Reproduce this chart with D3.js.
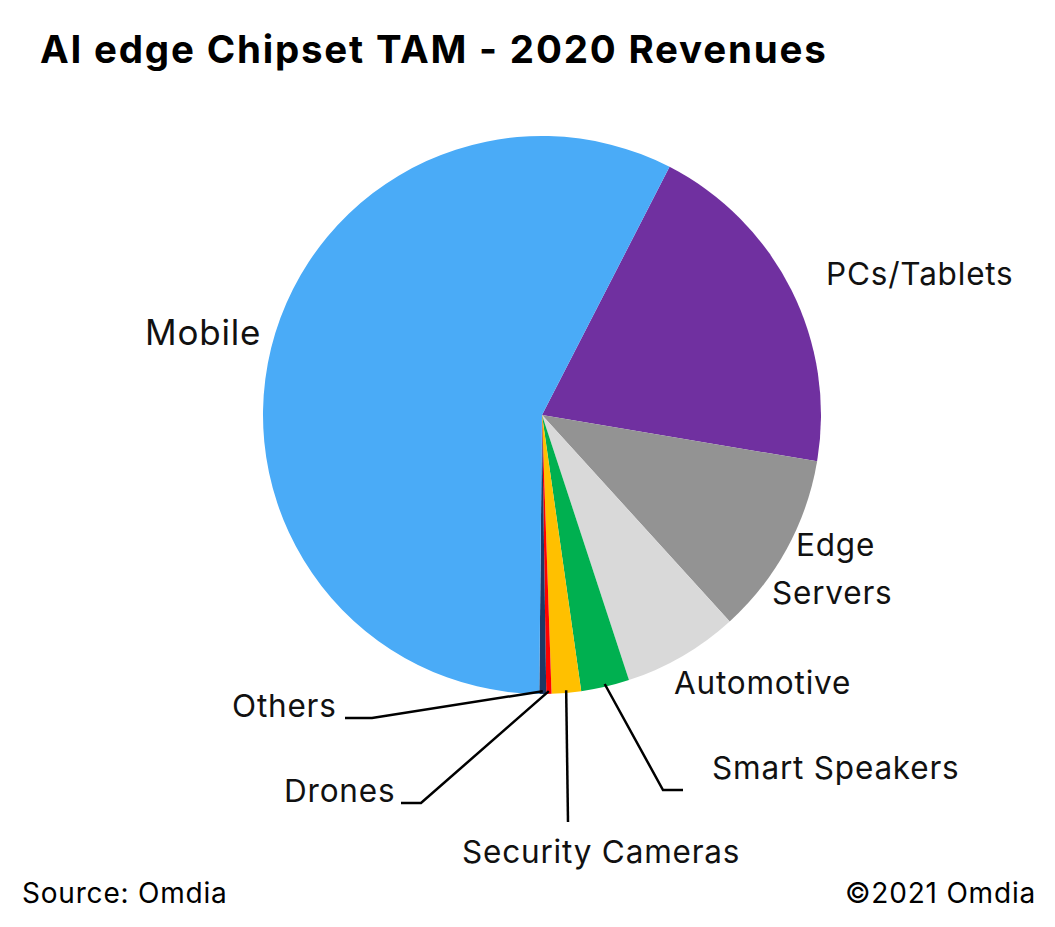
<!DOCTYPE html>
<html>
<head>
<meta charset="utf-8">
<style>
  body { margin: 0; background: #fff; font-family: Inter, "Noto Sans", sans-serif; }
  svg { display: block; }
  text { letter-spacing: 0.8px; }
</style>
</head>
<body>
<svg width="1055" height="927"></svg>
<script src="https://d3js.org/d3.v7.min.js"></script>
<script>
// data (share of revenue, %)
const categories = ["PCs/Tablets", "Edge Servers", "Automotive", "Smart Speakers", "Security Cameras", "Drones", "Others", "Mobile"];
const shares = [20.1, 10.6, 6.7, 2.8, 1.7, 0.3, 0.4, 57.4];
const colors = ["#7030A0", "#939393", "#D9D9D9", "#00B050", "#FFC000", "#FF0000", "#1F3864", "#4AABF7"];

const svg = d3.select("svg");
const cx = 542, cy = 415, r = 279;

svg.append("text").attr("x", 40).attr("y", 63)
  .style("font-size", "38.5px").style("font-weight", 700).style("letter-spacing", "1.8px")
  .text("AI edge Chipset TAM - 2020 Revenues");

const pie = d3.pie().sort(null).startAngle(27.2 * Math.PI / 180).endAngle(27.2 * Math.PI / 180 + 2 * Math.PI);
const arcs = pie(shares);
const arc = d3.arc().innerRadius(0).outerRadius(r);

const g = svg.append("g").attr("transform", `translate(${cx},${cy})`);
g.selectAll("path").data(arcs).join("path")
  .attr("d", arc)
  .attr("fill", (d, i) => colors[i]);

// labels
const labels = [
  { i: 7, lines: ["Mobile"], x: 145, y: 345, size: 35 },
  { i: 0, lines: ["PCs/Tablets"], x: 826, y: 285, size: 31.5 },
  { i: 1, lines: ["Edge", "Servers"], x: 796, y: 556, size: 31.5, dx: [0, -24] },
  { i: 2, lines: ["Automotive"], x: 674, y: 694, size: 31.5 },
  { i: 3, lines: ["Smart Speakers"], x: 712, y: 779, size: 31.5 },
  { i: 4, lines: ["Security Cameras"], x: 462, y: 863, size: 31.5 },
  { i: 5, lines: ["Drones"], x: 284, y: 802, size: 31.5 },
  { i: 6, lines: ["Others"], x: 232, y: 717, size: 31.5 }
];
labels.forEach(l => {
  const t = svg.append("text").attr("x", l.x).attr("y", l.y).style("font-size", l.size + "px").attr("fill", "#111");
  l.lines.forEach((s, k) => t.append("tspan").attr("x", l.x + (l.dx ? l.dx[k] : 0)).attr("dy", k ? 48 : 0).text(s));
});

// leader lines from the small slices
const edgePt = (d, f = 1) => {
  const a = (d.startAngle + d.endAngle) / 2;
  return [cx + Math.sin(a) * r * f, cy - Math.cos(a) * r * f];
};
const leaders = [
  { i: 3, pts: [[663, 790], [683, 790]] },
  { i: 4, pts: [[568, 822]] },
  { i: 5, pts: [[421, 803], [401, 803]] },
  { i: 6, pts: [[372, 718], [345, 718]] }
];
leaders.forEach(l => {
  svg.append("path")
    .attr("d", d3.line()([edgePt(arcs[l.i], 0.99), ...l.pts]))
    .attr("fill", "none").attr("stroke", "#000").attr("stroke-width", 2.5);
});

svg.append("text").attr("x", 22).attr("y", 903).style("font-size", "28px").text("Source: Omdia");
svg.append("text").attr("x", 1036).attr("y", 903).attr("text-anchor", "end").style("font-size", "28px").text("©2021 Omdia");
</script>
</body>
</html>
